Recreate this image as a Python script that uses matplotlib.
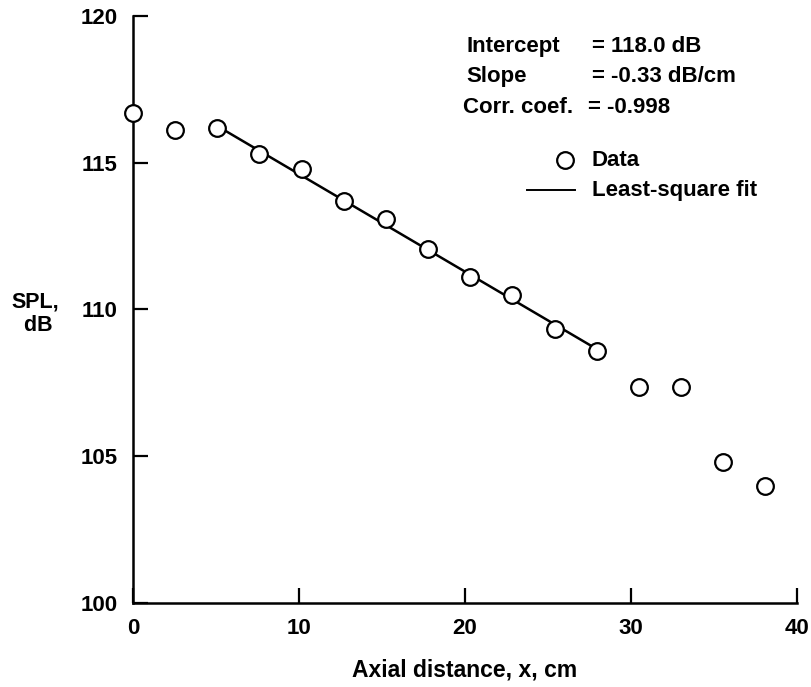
import matplotlib
matplotlib.use('Agg')
import matplotlib.pyplot as plt

# measured SPL along the jet axis (1 inch spacing)
x_cm = [0.0, 2.54, 5.08, 7.62, 10.16, 12.70, 15.24, 17.78, 20.32, 22.86,
        25.40, 27.94, 30.48, 33.02, 35.56, 38.10]
spl_db = [116.7, 116.1, 116.2, 115.3, 114.8, 113.7, 113.1, 112.05, 111.1, 110.5,
          109.35, 108.6, 107.35, 107.35, 104.8, 104.0]

# least-square fit, drawn over the middle points
fit_x = [5.08, 27.94]
fit_y = [116.25, 108.65]

xticks = [0, 10, 20, 30, 40]
yticks = [100, 105, 110, 115, 120]

plt.rcParams['font.family'] = ['Liberation Sans', 'DejaVu Sans']
plt.rcParams['font.weight'] = 'bold'

fig = plt.figure(figsize=(8.12, 6.87), dpi=100)
ax = fig.add_axes([0.1638, 0.1223, 0.8177, 0.8544])

ax.plot(fit_x, fit_y, color='black', lw=1.8, zorder=2)
ax.plot(x_cm, spl_db, 'o', mfc='white', mec='black', mew=1.6, ms=12, zorder=3, clip_on=False)

ax.set_xlim(0, 40)
ax.set_ylim(100, 120)
ax.set_xticks(xticks)
ax.set_yticks(yticks)
ax.tick_params(direction='in', length=11, width=1.6, labelsize=16, pad=11)

for s in ['top', 'right']:
    ax.spines[s].set_visible(False)
for s in ['left', 'bottom']:
    ax.spines[s].set_linewidth(1.8)

ax.set_xlabel('Axial distance, x, cm', fontsize=16.5, fontweight='bold', labelpad=14)
fig.text(0.044, 0.543, 'SPL,\n dB', fontsize=15.5, ha='center', va='center', linespacing=1.15)

# fit statistics
tx = 0.574
rows = [0.933, 0.888, 0.843]
fig.text(tx, rows[0], 'Intercept', fontsize=16, va='center')
fig.text(tx, rows[1], 'Slope', fontsize=16, va='center')
fig.text(tx - 0.004, rows[2], 'Corr. coef.', fontsize=16, va='center')
fig.text(0.729, rows[0], '= 118.0 dB', fontsize=16, va='center')
fig.text(0.729, rows[1], '= -0.33 dB/cm', fontsize=16, va='center')
fig.text(0.724, rows[2], '= -0.998', fontsize=16, va='center')

# legend drawn by hand
ax.plot([0.696], [0.767], 'o', mfc='white', mec='black', mew=1.6, ms=12,
        transform=fig.transFigure, clip_on=False)
fig.text(0.729, 0.767, 'Data', fontsize=16, va='center')
ax.plot([0.649, 0.708], [0.723, 0.723], color='black', lw=1.4,
        transform=fig.transFigure, clip_on=False)
fig.text(0.729, 0.723, 'Least-square fit', fontsize=16, va='center')

fig.savefig('out.png', dpi=100)
